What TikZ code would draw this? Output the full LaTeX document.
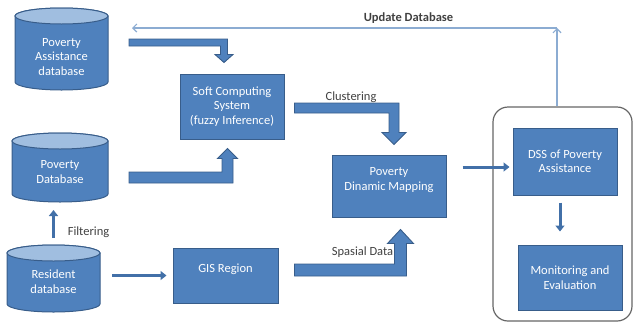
\documentclass[tikz,border=0pt]{standalone}
\usepackage{fontspec}
\setmainfont{Carlito}
\usetikzlibrary{calc,arrows.meta}

\definecolor{boxblue}{RGB}{79,129,189}
\definecolor{boxedge}{RGB}{56,93,138}
\definecolor{dbcap}{RGB}{160,190,224}
\definecolor{linkblue}{RGB}{66,112,168}
\definecolor{feedblue}{RGB}{140,172,210}
\definecolor{labelgray}{RGB}{64,64,64}

\tikzset{
  txt/.style={font=\fontsize{12.5}{14.5}\selectfont},
  procbox/.style={txt, draw=boxedge, fill=boxblue, line width=1pt, text=white, align=center, inner sep=2pt},
  dbbody/.style={draw=boxedge, fill=boxblue, line width=1pt},
  dbtop/.style={draw=boxedge, fill=dbcap, line width=1pt},
  dbtext/.style={txt, text=white, align=center, inner sep=1pt},
  blockarrow/.style={draw=boxedge, fill=boxblue, line width=0.9pt, line join=miter},
  link/.style={draw=linkblue, line width=3pt, -{Triangle[width=9pt,length=6pt]}},
  feedback/.style={draw=feedblue, line width=1.2pt, -{Straight Barb[width=8pt,length=4pt]}},
  panel/.style={draw=black!60, line width=1.2pt, rounded corners=15pt},
  tag/.style={txt, text=labelgray, inner sep=1pt}
}

% database cylinder: [name](centre)(half width:top:bottom){text}
\def\dbnode[#1](#2)(#3:#4:#5)#6{%
  \filldraw[dbbody] ($(#2)+(-#3,#4-8)$) -- ($(#2)+(-#3,-#5+8)$)
    arc[start angle=180, end angle=360, x radius=#3, y radius=8]
    -- ($(#2)+(#3,#4-8)$) arc[start angle=0, end angle=180, x radius=#3, y radius=8] -- cycle;
  \filldraw[dbtop] ($(#2)+(0,#4-8)$) ellipse[x radius=#3, y radius=8];
  \node[dbtext] (#1) at (#2) {#6};
  \coordinate (#1-top) at ($(#2)+(0,#4)$);
  \coordinate (#1-bot) at ($(#2)+(0,-#5)$);
  \coordinate (#1-east) at ($(#2)+(#3,0)$);}

% elbow block arrow: (start)(tip)(half band:half head:head length:sign)
\def\blockarrow(#1)(#2)(#3:#4:#5:#6){%
  \draw[blockarrow] let \p1=(#1), \p2=(#2) in
    (\x1,{\y1+(#6)*(#3)}) -- ({\x2+#3},{\y1+(#6)*(#3)}) -- ({\x2+#3},{\y2+(#6)*(#5)})
    -- ({\x2+#4},{\y2+(#6)*(#5)}) -- (\x2,\y2) -- ({\x2-#4},{\y2+(#6)*(#5)})
    -- ({\x2-#3},{\y2+(#6)*(#5)}) -- ({\x2-#3},{\y1-(#6)*(#3)}) -- (\x1,{\y1-(#6)*(#3)}) -- cycle;}

\begin{document}
\begin{tikzpicture}[x=1pt, y=1pt]
	%%%%% START %%%%%
	\useasboundingbox (0,0) rectangle (634,-322);
	
	\dbnode[pad](61.5,-57)(46.5:49:33){Poverty\\Assistance\\database}
	\dbnode[pdb](60,-172)(48:39:30){Poverty\\Database}
	\dbnode[rdb](53.5,-281.5)(46.5:36.5:30.5){Resident\\database}
	
	\node[procbox, minimum width=104pt, minimum height=65pt] (soft) at (232,-106.5) {Soft Computing\\System\\(fuzzy Inference)};
	\node[procbox, minimum width=105pt, minimum height=55pt] (gis) at (225.5,-275.5) {GIS Region\\ \mbox{}};
	\node[procbox, minimum width=114pt, minimum height=62pt] (map) at (389,-186) {Poverty\\Dinamic Mapping\\ \mbox{}};
	
	\node[panel, minimum width=139pt, minimum height=214pt] (frame) at (562.5,-214) {};
	\node[procbox, minimum width=104pt, minimum height=67pt] (dss) at (565,-161.5) {DSS of Poverty\\Assistance};
	\node[procbox, minimum width=104pt, minimum height=65pt] (mon) at (570,-277.5) {Monitoring and\\Evaluation};
	
	% block arrows
	\coordinate (a1s) at ($(pad.center)+(67.5,14.5)$);
	\coordinate (a1t) at ($(soft.north)+(-8,11)$);
	\blockarrow(a1s)(a1t)(3.5:9:8:1)
	\coordinate (a2s) at ($(pdb.center)+(69,-5.5)$);
	\coordinate (a2t) at ($(soft.south)+(-4.5,-9)$);
	\blockarrow(a2s)(a2t)(5.5:10:10:-1)
	\coordinate (a3s) at ($(soft.east)+(10,-1.5)$);
	\coordinate (a3t) at ($(map.north)+(5,10)$);
	\blockarrow(a3s)(a3t)(5:12:12:1)
	\coordinate (a4s) at ($(gis.east)+(16,5.5)$);
	\coordinate (a4t) at ($(map.south)+(11.5,-12)$);
	\blockarrow(a4s)(a4t)(6:13:14:-1)
	
	% thin arrows
	\draw[link, shorten <=7pt, shorten >=8pt] (rdb-top) -- (rdb-top |- pdb-bot);
	\draw[link, shorten <=12pt, shorten >=6pt] (rdb-east |- gis.west) -- (gis.west);
	\coordinate (dssin) at ($(dss.west)+(0,-5.5)$);
	\draw[link, shorten <=16pt, shorten >=3pt] (map.east |- dssin) -- (dssin);
	\coordinate (dssout) at ($(dss.south)+(-5,0)$);
	\draw[link, shorten <=7pt, shorten >=13pt] (dssout) -- (dssout |- mon.north);
	
	% update loop
	\coordinate (updturn) at (557,-28);
	\coordinate (updend) at (132,-28);
	\draw[feedback] (updturn |- frame.north) -- (updturn);
	\draw[feedback] (updturn) -- (updend);
	
	\node[tag] (lblfilt) at (88.5,-232) {Filtering};
	\node[tag] (lblclus) at (351,-97) {Clustering};
	\node[tag] (lblspas) at (362.5,-252) {Spasial Data};
	\node[tag, font=\fontsize{12.5}{14.5}\selectfont\bfseries] (lblupd) at (408.5,-18) {Update Database};
	%%%%% END %%%%%
\end{tikzpicture}
\end{document}
